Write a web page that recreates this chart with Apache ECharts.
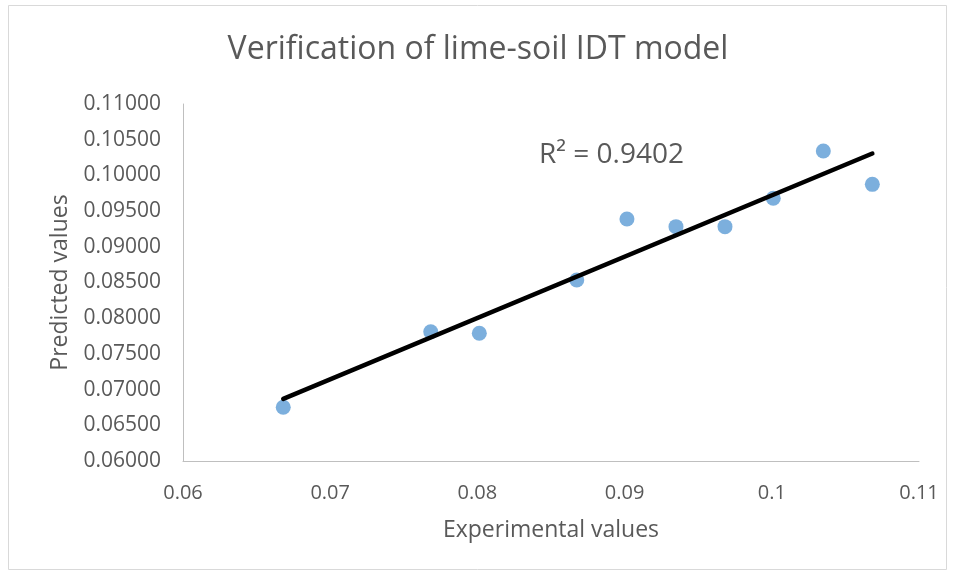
<!DOCTYPE html>
<html>
<head>
<meta charset="utf-8">
<script src="https://cdn.jsdelivr.net/npm/echarts@6/dist/echarts.min.js"></script>
<style>
html,body{margin:0;padding:0;background:#fff;}
#chart{width:956px;height:577px;}
</style>
</head>
<body>
<div id="chart"></div>
<script>
const titleText = "Verification of lime-soil IDT model";
const xAxisName = "Experimental values";
const yAxisName = "Predicted values";
const r2Text = "R² = 0.9402";
const experimental = [0.06681, 0.07683, 0.08013, 0.08675, 0.09016, 0.09349, 0.09682, 0.10010, 0.10350, 0.10683];
const predicted    = [0.06752, 0.07811, 0.07789, 0.08535, 0.09389, 0.09282, 0.09282, 0.09679, 0.10342, 0.09875];

// least-squares trendline
const n = experimental.length;
let sx=0, sy=0, sxx=0, sxy=0;
for (let i=0;i<n;i++){ sx+=experimental[i]; sy+=predicted[i]; sxx+=experimental[i]*experimental[i]; sxy+=experimental[i]*predicted[i]; }
const slope = (n*sxy - sx*sy)/(n*sxx - sx*sx);
const intercept = (sy - slope*sx)/n;
const xMin = Math.min(...experimental), xMax = Math.max(...experimental);
const trend = [[xMin, intercept + slope*xMin], [xMax, intercept + slope*xMax]];

const points = experimental.map((x,i)=>[x, predicted[i]]);
const font = "'Open Sans', Lato, sans-serif";
const chart = echarts.init(document.getElementById('chart'), null, {renderer:'canvas'});
chart.setOption({
  animation:false,
  backgroundColor:'#fff',
  title:{text:titleText, left:'center', top:29, textStyle:{fontFamily:font, fontSize:32, fontWeight:'normal', color:'#595959'}},
  grid:{left:183, right:37, top:104, bottom:116},
  xAxis:{
    type:'value', min:0.06, max:0.11, interval:0.01,
    name:xAxisName, nameLocation:'middle', nameGap:58,
    nameTextStyle:{fontFamily:font, fontSize:23, color:'#595959'},
    axisLine:{show:true, lineStyle:{color:'#bfbfbf', width:1}},
    axisTick:{show:false}, splitLine:{show:false},
    axisLabel:{fontFamily:font, fontSize:20, color:'#595959', margin:22, formatter:v=>String(+v.toFixed(2))}
  },
  yAxis:{
    type:'value', min:0.06, max:0.11, interval:0.005,
    name:yAxisName, nameLocation:'middle', nameGap:111, nameRotate:90,
    nameTextStyle:{fontFamily:font, fontSize:23, color:'#595959'},
    axisLine:{show:true, lineStyle:{color:'#bfbfbf', width:1}},
    axisTick:{show:false}, splitLine:{show:false},
    axisLabel:{fontFamily:font, fontSize:21, color:'#595959', margin:22, formatter:v=>v.toFixed(5)}
  },
  series:[
    {type:'scatter', data:points, symbol:'circle', symbolSize:15, itemStyle:{color:'#5B9BD5'}, z:2},
    {type:'line', data:trend, showSymbol:false, symbol:'none', lineStyle:{color:'#000', width:4.5, cap:'round'}, z:3}
  ],
  graphic:[
    {type:'rect', shape:{x:8.5, y:5.5, width:938, height:564}, style:{fill:'none', stroke:'#d9d9d9', lineWidth:1}, silent:true},
    {type:'text', left:539, top:141, style:{text:r2Text, fontFamily:font, fontSize:28, fill:'#595959'}}
  ]
});
</script>
</body>
</html>
